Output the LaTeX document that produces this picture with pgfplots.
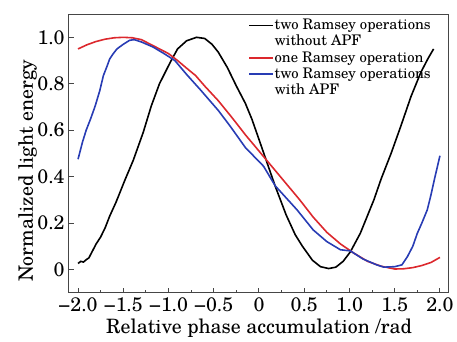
\documentclass[border=0pt]{standalone}
\usepackage{fontspec}
\setmainfont{texgyreschola}[Extension=.otf, UprightFont=*-regular, BoldFont=*-bold, ItalicFont=*-italic, BoldItalicFont=*-bolditalic]
\usepackage{pgfplots}
\pgfplotsset{compat=1.18}
\definecolor{myred}{RGB}{220,40,45}
\definecolor{myblue}{RGB}{40,60,180}
\definecolor{frame}{RGB}{70,70,70}
\begin{document}
\begin{tikzpicture}[x=1pt,y=1pt]
\path[use as bounding box] (-34.5,-24.65) rectangle (194,146.35);
\begin{axis}[
  at={(0,0)}, anchor=south west,
  scale only axis, width=190pt, height=139.3pt,
  xmin=-2.1, xmax=2.1, ymin=-0.1, ymax=1.1,
  axis line style={frame, line width=0.5pt},
  xtick={-2,-1.5,-1,-0.5,0,0.5,1,1.5,2},
  xticklabels={−2.0,−1.5,−1.0,−0.5,0,0.5,1.0,1.5,2.0},
  ytick={0,0.2,0.4,0.6,0.8,1.0},
  yticklabels={0,0.2,0.4,0.6,0.8,1.0},
  minor x tick num=1,
  xtick pos=left, ytick pos=left,
  tick align=inside,
  major tick length=2.5pt, minor tick length=1.5pt,
  tick style={frame, line width=0.5pt},
  ticklabel style={font=\fontsize{9.8}{11}\selectfont},
  xticklabel style={inner sep=2.5pt},
  yticklabel style={inner sep=2pt},
  xlabel={Relative phase accumulation /rad},
  ylabel={Normalized light energy},
  label style={font=\fontsize{9.9}{11}\selectfont},
  xlabel style={at={(rel axis cs:0.5,0)}, anchor=base, yshift=-20.6pt},
  ylabel style={at={(rel axis cs:0,0.438)}, anchor=base, yshift=18pt},
  legend style={at={(rel axis cs:0.471,0.989)}, anchor=north west, draw=none, fill=none,
    font=\fontsize{7.3}{8}\selectfont, row sep=0pt, inner sep=0pt,
    nodes={inner sep=0.3pt, text height=5.8pt, text depth=1.7pt}},
  legend cell align=left,
  legend image code/.code={\draw[#1] (0pt,0pt) -- (12pt,0pt);},
]
\addplot[black, line width=0.8pt] coordinates {
(-2.00,0.026) (-1.97,0.035) (-1.94,0.032) (-1.91,0.042) (-1.88,0.05) (-1.84,0.08)
(-1.80,0.11) (-1.75,0.14) (-1.70,0.18) (-1.65,0.23) (-1.58,0.29) (-1.48,0.387)
(-1.39,0.47) (-1.28,0.59) (-1.19,0.705) (-1.10,0.80) (-0.98,0.893) (-0.90,0.95)
(-0.80,0.985) (-0.69,1.0) (-0.60,0.995) (-0.52,0.97) (-0.45,0.936) (-0.35,0.87)
(-0.25,0.79) (-0.15,0.715) (-0.078,0.647) (0.00,0.56) (0.089,0.46) (0.18,0.358)
(0.30,0.235) (0.40,0.15) (0.48,0.10) (0.59,0.04) (0.68,0.012) (0.77,0.004)
(0.85,0.01) (0.93,0.035) (1.01,0.076) (1.12,0.156) (1.27,0.30) (1.35,0.39)
(1.46,0.50) (1.57,0.62) (1.68,0.745) (1.79,0.85) (1.87,0.91) (1.93,0.95)
};
\addlegendentry{two Ramsey operations}
\addlegendimage{empty legend}
\addlegendentry{without APF}
\addplot[myred, line width=0.8pt] coordinates {
(-2.00,0.950) (-1.90,0.968) (-1.80,0.982) (-1.70,0.992) (-1.60,0.998) (-1.50,1.000)
(-1.40,0.998) (-1.30,0.990) (-1.20,0.970) (-1.10,0.950) (-1.00,0.930) (-0.90,0.900)
(-0.80,0.867) (-0.70,0.835) (-0.60,0.790) (-0.45,0.727) (-0.30,0.655) (-0.15,0.58)
(0.0,0.51) (0.15,0.44) (0.30,0.37) (0.45,0.30) (0.60,0.225) (0.75,0.16) (0.90,0.11)
(1.05,0.07) (1.20,0.035) (1.35,0.014) (1.50,0.002) (1.60,0.003) (1.70,0.008)
(1.80,0.017) (1.90,0.03) (2.0,0.052)
};
\addlegendentry{one Ramsey operation}
\addplot[myblue, line width=0.8pt] coordinates {
(-2.00,0.475) (-1.95,0.55) (-1.91,0.60) (-1.86,0.65) (-1.81,0.705) (-1.76,0.77)
(-1.72,0.835) (-1.68,0.875) (-1.65,0.907) (-1.61,0.93) (-1.57,0.95) (-1.50,0.97)
(-1.43,0.987) (-1.38,0.99) (-1.30,0.98) (-1.17,0.958) (-1.05,0.93) (-0.93,0.90)
(-0.80,0.84) (-0.65,0.775) (-0.45,0.685) (-0.32,0.618) (-0.15,0.525) (0.05,0.445)
(0.18,0.36) (0.42,0.257) (0.60,0.17) (0.75,0.12) (0.90,0.085) (1.01,0.08)
(1.15,0.045) (1.30,0.02) (1.38,0.01) (1.50,0.012) (1.58,0.02) (1.64,0.055)
(1.70,0.10) (1.75,0.156) (1.80,0.20) (1.86,0.257) (1.90,0.32) (1.94,0.39)
(1.97,0.44) (2.00,0.49)
};
\addlegendentry{two Ramsey operations}
\addlegendimage{empty legend}
\addlegendentry{with APF}
\end{axis}
\end{tikzpicture}
\end{document}
